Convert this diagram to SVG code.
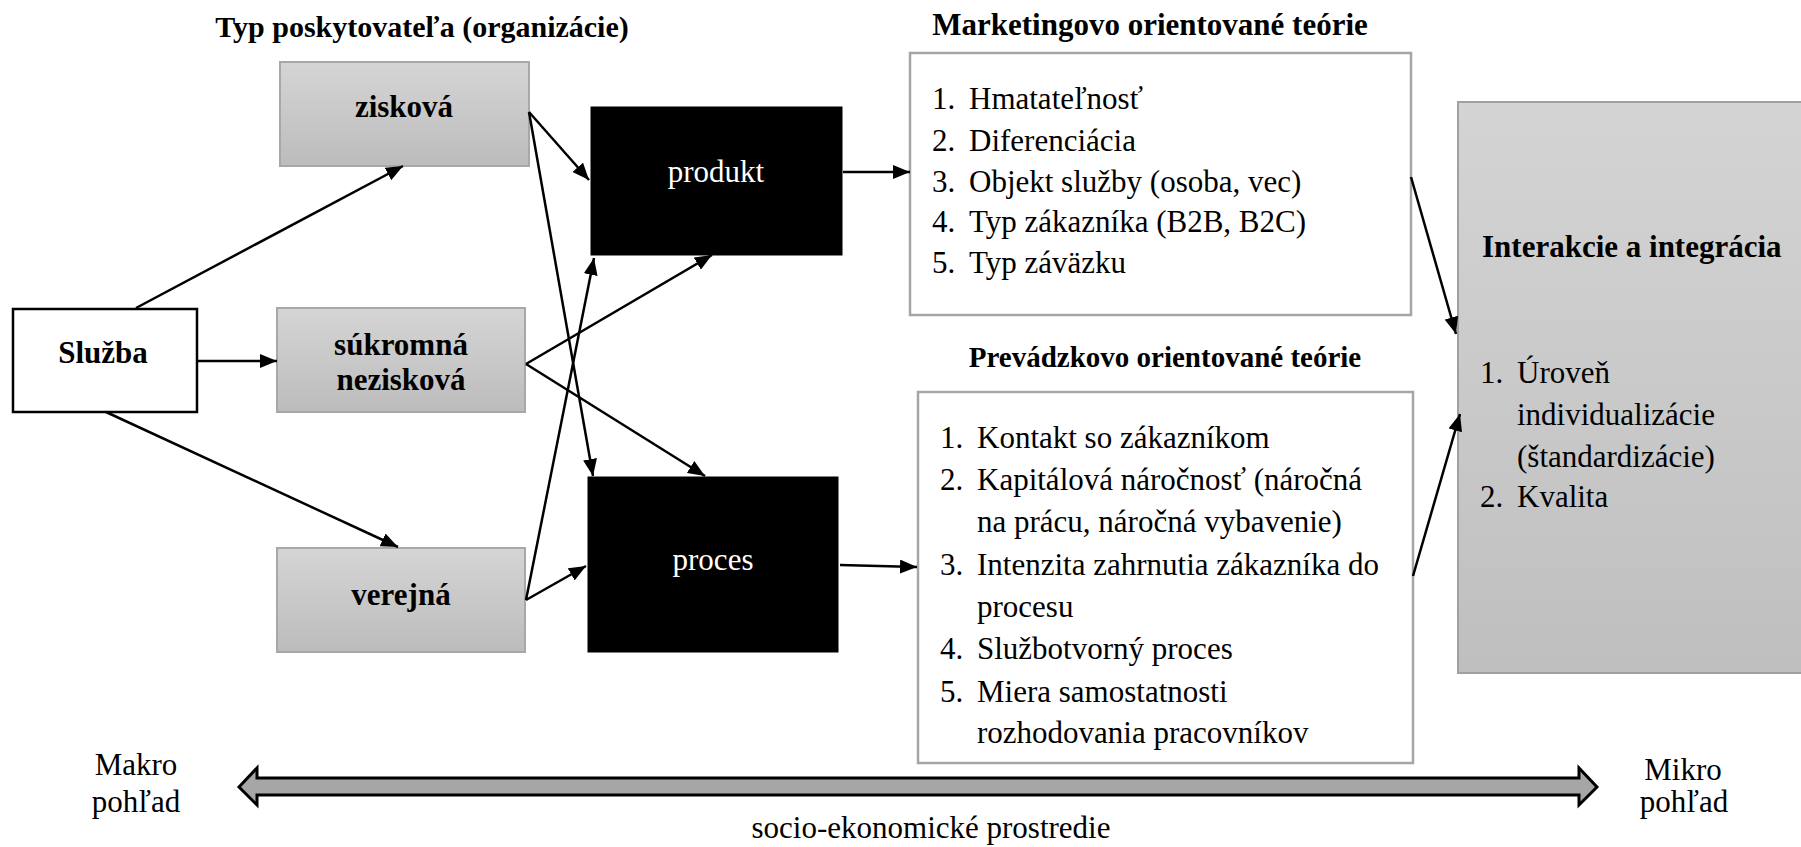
<svg xmlns="http://www.w3.org/2000/svg" width="1801" height="847" viewBox="0 0 1801 847">
<defs>
<linearGradient id="gg" x1="0" y1="0" x2="0" y2="1"><stop offset="0" stop-color="#d5d5d5"/><stop offset="1" stop-color="#bcbcbc"/></linearGradient>
<linearGradient id="gi" x1="0" y1="0" x2="0" y2="1"><stop offset="0" stop-color="#d4d4d4"/><stop offset="1" stop-color="#bfbfbf"/></linearGradient>
<marker id="ah" markerWidth="17" markerHeight="14" refX="17" refY="7" orient="auto" markerUnits="userSpaceOnUse"><path d="M0,0 L17,7 L0,14 z" fill="#000"/></marker>
</defs>
<style>
text{font-family:"Liberation Serif","Times New Roman",serif;fill:#000}
.b{font-weight:bold;font-size:31px}
.r{font-size:31px}
.m{text-anchor:middle}
.w{fill:#fff}
.gbox{fill:url(#gg);stroke:#a8a8a8;stroke-width:2}
.blk{fill:#000;stroke:#000}
.wbox{fill:#fff;stroke:#a6a6a6;stroke-width:2.5}
.con line{stroke:#000;stroke-width:2.5;fill:none;marker-end:url(#ah)}
</style>
<rect width="1801" height="847" fill="#fff"/>

<text class="b m" x="422" y="37" style="font-size:30px">Typ poskytovateľa (organizácie)</text>
<text class="b m" x="1150" y="35">Marketingovo orientované teórie</text>
<text class="b m" x="1165" y="367" style="font-size:29px">Prevádzkovo orientované teórie</text>

<g id="sluzba"><rect x="13" y="309" width="184" height="103" fill="#fff" stroke="#000" stroke-width="2.5"/><text class="b m" x="103" y="363">Služba</text></g>
<g id="ziskova"><rect class="gbox" x="280" y="62" width="249" height="104"/><text class="b m" x="404" y="117">zisková</text></g>
<g id="sukromna"><rect class="gbox" x="277" y="308" width="248" height="104"/><text class="b m" x="401" y="355">súkromná</text><text class="b m" x="401" y="390">nezisková</text></g>
<g id="verejna"><rect class="gbox" x="277" y="548" width="248" height="104"/><text class="b m" x="401" y="605">verejná</text></g>
<g id="produkt"><rect class="blk" x="591" y="107" width="251" height="148"/><text class="r m w" x="716" y="182">produkt</text></g>
<g id="proces"><rect class="blk" x="588" y="477" width="250" height="175"/><text class="r m w" x="713" y="570">proces</text></g>

<g id="marketing"><rect class="wbox" x="910" y="53" width="501" height="262"/>
<text class="r" x="932" y="109">1.</text><text class="r" x="969" y="109">Hmatateľnosť</text>
<text class="r" x="932" y="151">2.</text><text class="r" x="969" y="151">Diferenciácia</text>
<text class="r" x="932" y="192">3.</text><text class="r" x="969" y="192">Objekt služby (osoba, vec)</text>
<text class="r" x="932" y="232">4.</text><text class="r" x="969" y="232">Typ zákazníka (B2B, B2C)</text>
<text class="r" x="932" y="273">5.</text><text class="r" x="969" y="273">Typ záväzku</text>
</g>

<g id="prevadzkovo"><rect class="wbox" x="918" y="392" width="495" height="371"/>
<text class="r" x="940" y="448">1.</text><text class="r" x="977" y="448">Kontakt so zákazníkom</text>
<text class="r" x="940" y="490">2.</text><text class="r" x="977" y="490">Kapitálová náročnosť (náročná</text>
<text class="r" x="977" y="532">na prácu, náročná vybavenie)</text>
<text class="r" x="940" y="575">3.</text><text class="r" x="977" y="575">Intenzita zahrnutia zákazníka do</text>
<text class="r" x="977" y="617">procesu</text>
<text class="r" x="940" y="659">4.</text><text class="r" x="977" y="659">Službotvorný proces</text>
<text class="r" x="940" y="702">5.</text><text class="r" x="977" y="702">Miera samostatnosti</text>
<text class="r" x="977" y="743">rozhodovania pracovníkov</text>
</g>

<g id="interakcie"><rect x="1458" y="102" width="350" height="571" fill="url(#gi)" stroke="#a0a0a0" stroke-width="2"/>
<text class="b" x="1482" y="257">Interakcie a integrácia</text>
<text class="r" x="1480" y="383">1.</text><text class="r" x="1517" y="383">Úroveň</text>
<text class="r" x="1517" y="425">individualizácie</text>
<text class="r" x="1517" y="467">(štandardizácie)</text>
<text class="r" x="1480" y="507">2.</text><text class="r" x="1517" y="507">Kvalita</text>
</g>

<g id="connectors" class="con">
<line x1="136" y1="308" x2="403" y2="166"/>
<line x1="197" y1="361" x2="277" y2="361"/>
<line x1="106" y1="412" x2="398" y2="547"/>
<line x1="529" y1="112" x2="589" y2="180"/>
<line x1="529" y1="112" x2="593" y2="476"/>
<line x1="526" y1="364" x2="712" y2="255"/>
<line x1="526" y1="364" x2="705" y2="476"/>
<line x1="526" y1="600" x2="594" y2="258"/>
<line x1="526" y1="600" x2="586" y2="566"/>
<line x1="843" y1="172" x2="910" y2="172"/>
<line x1="840" y1="565" x2="917" y2="567"/>
<line x1="1411" y1="177" x2="1456" y2="334"/>
<line x1="1413" y1="576" x2="1460" y2="414"/>
</g>

<g id="axis">
<path d="M239,787 L257,768 L257,778 L1579,778 L1579,768 L1597,787 L1579,805 L1579,795 L257,795 L257,805 Z" fill="#a6a6a6" stroke="#000" stroke-width="3" stroke-linejoin="miter"/>
<text class="r m" x="136" y="775">Makro</text><text class="r m" x="136" y="812">pohľad</text>
<text class="r m" x="1683" y="780">Mikro</text><text class="r m" x="1684" y="812">pohľad</text>
<text class="r m" x="931" y="838">socio-ekonomické prostredie</text>
</g>
</svg>
